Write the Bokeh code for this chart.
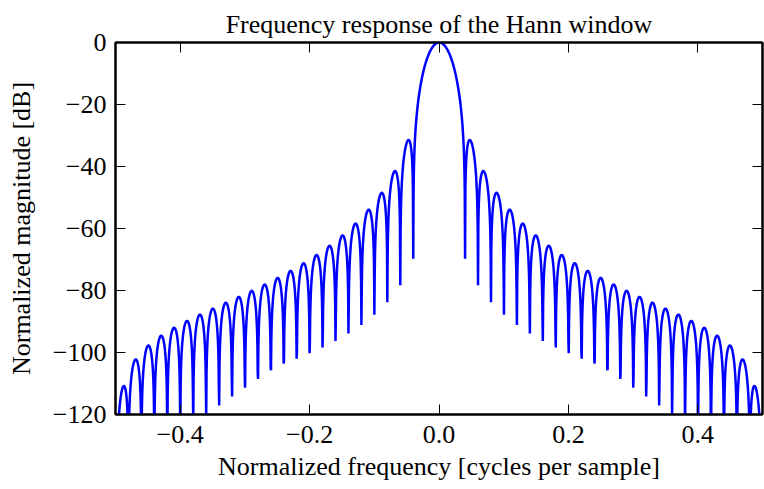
import numpy as np
from bokeh.plotting import figure
from bokeh.models import Range1d, FixedTicker, LinearAxis, CustomJSTickFormatter, ColumnDataSource
from bokeh.embed import file_html
from bokeh.resources import INLINE

# Hann window samples (51 points, symmetric), first half n = 0..25
half_window = [
    0.0, 0.00394264935, 0.01570841945, 0.03511175705, 0.06184666,
    0.0954915028, 0.1355156863, 0.18128800515, 0.2320866025, 0.2871103542,
    0.3454915028, 0.4063093427, 0.46860474025, 0.53139525975, 0.5936906573,
    0.6545084972, 0.7128896458, 0.7679133975, 0.81871199485, 0.8644843137,
    0.9045084972, 0.93815334, 0.96488824295, 0.98429158055, 0.99605735065,
    1.0,
]
n_fft = 2048
x_ticks = [-0.4, -0.2, 0.0, 0.2, 0.4]
y_ticks = [0, -20, -40, -60, -80, -100, -120]

window = np.array(half_window + half_window[-2::-1])
spectrum = np.fft.fft(window, n_fft) / (len(window) / 2.0)
mag = np.abs(np.fft.fftshift(spectrum / np.abs(spectrum).max()))
response = 20 * np.log10(np.maximum(mag, 1e-15))
freq = np.linspace(-0.5, 0.5, n_fft)
src = ColumnDataSource(dict(f=freq, r=response))

FONT = "Liberation Serif"
FS = "26px"
p = figure(width=764, height=489, output_backend="svg", toolbar_location=None,
           x_range=Range1d(-0.5, 0.5), y_range=Range1d(-120, 0),
           min_border_left=115, min_border_right=2, min_border_top=42, min_border_bottom=75,
           title="Frequency response of the Hann window")
p.title.text_font = FONT
p.title.text_font_size = FS
p.title.text_font_style = "normal"
p.title.align = "center"
p.title.text_color = "black"
p.title.standoff = 8

p.line("f", "r", source=src, line_color="#0000ff", line_width=2.5)

p.xgrid.visible = False
p.ygrid.visible = False
p.outline_line_color = "black"
p.outline_line_width = 2
p.outline_line_alpha = 1
p.background_fill_color = "white"
p.border_fill_color = "white"

xfmt = CustomJSTickFormatter(code="return (tick < -1e-9 ? '\\u2212' : '') + Math.abs(tick).toFixed(1);")
yfmt = CustomJSTickFormatter(code="return (tick < 0 ? '\\u2212' : '') + Math.abs(tick).toFixed(0);")
blank = CustomJSTickFormatter(code="return '';")

def style(ax, labels=True):
    ax.axis_line_color = "black"
    ax.axis_line_width = 2
    ax.major_tick_in = 10
    ax.major_tick_out = 0
    ax.major_tick_line_color = "black"
    ax.major_tick_line_width = 1
    ax.minor_tick_line_color = None
    ax.major_label_text_font = FONT
    ax.major_label_text_color = "black"
    ax.axis_label_text_font = FONT
    ax.axis_label_text_font_style = "normal"
    ax.axis_label_text_color = "black"
    if labels:
        ax.major_label_text_font_size = FS
        ax.axis_label_text_font_size = FS
    else:
        ax.formatter = blank
        ax.major_label_text_font_size = "2px"
        ax.major_label_text_color = None
        ax.major_label_standoff = 0

xa = p.xaxis[0]
xa.ticker = FixedTicker(ticks=x_ticks)
xa.formatter = xfmt
xa.axis_label = "Normalized frequency [cycles per sample]"
style(xa)
xa.major_label_standoff = 11
xa.axis_label_standoff = 6

ya = p.yaxis[0]
ya.ticker = FixedTicker(ticks=y_ticks)
ya.formatter = yfmt
ya.axis_label = "Normalized magnitude [dB]"
style(ya)
ya.major_label_standoff = 9
ya.axis_label_standoff = 14

top = LinearAxis(ticker=FixedTicker(ticks=x_ticks))
style(top, labels=False)
p.add_layout(top, "above")
right = LinearAxis(ticker=FixedTicker(ticks=y_ticks))
style(right, labels=False)
p.add_layout(right, "right")

open("out.html", "w").write(file_html(p, INLINE))
